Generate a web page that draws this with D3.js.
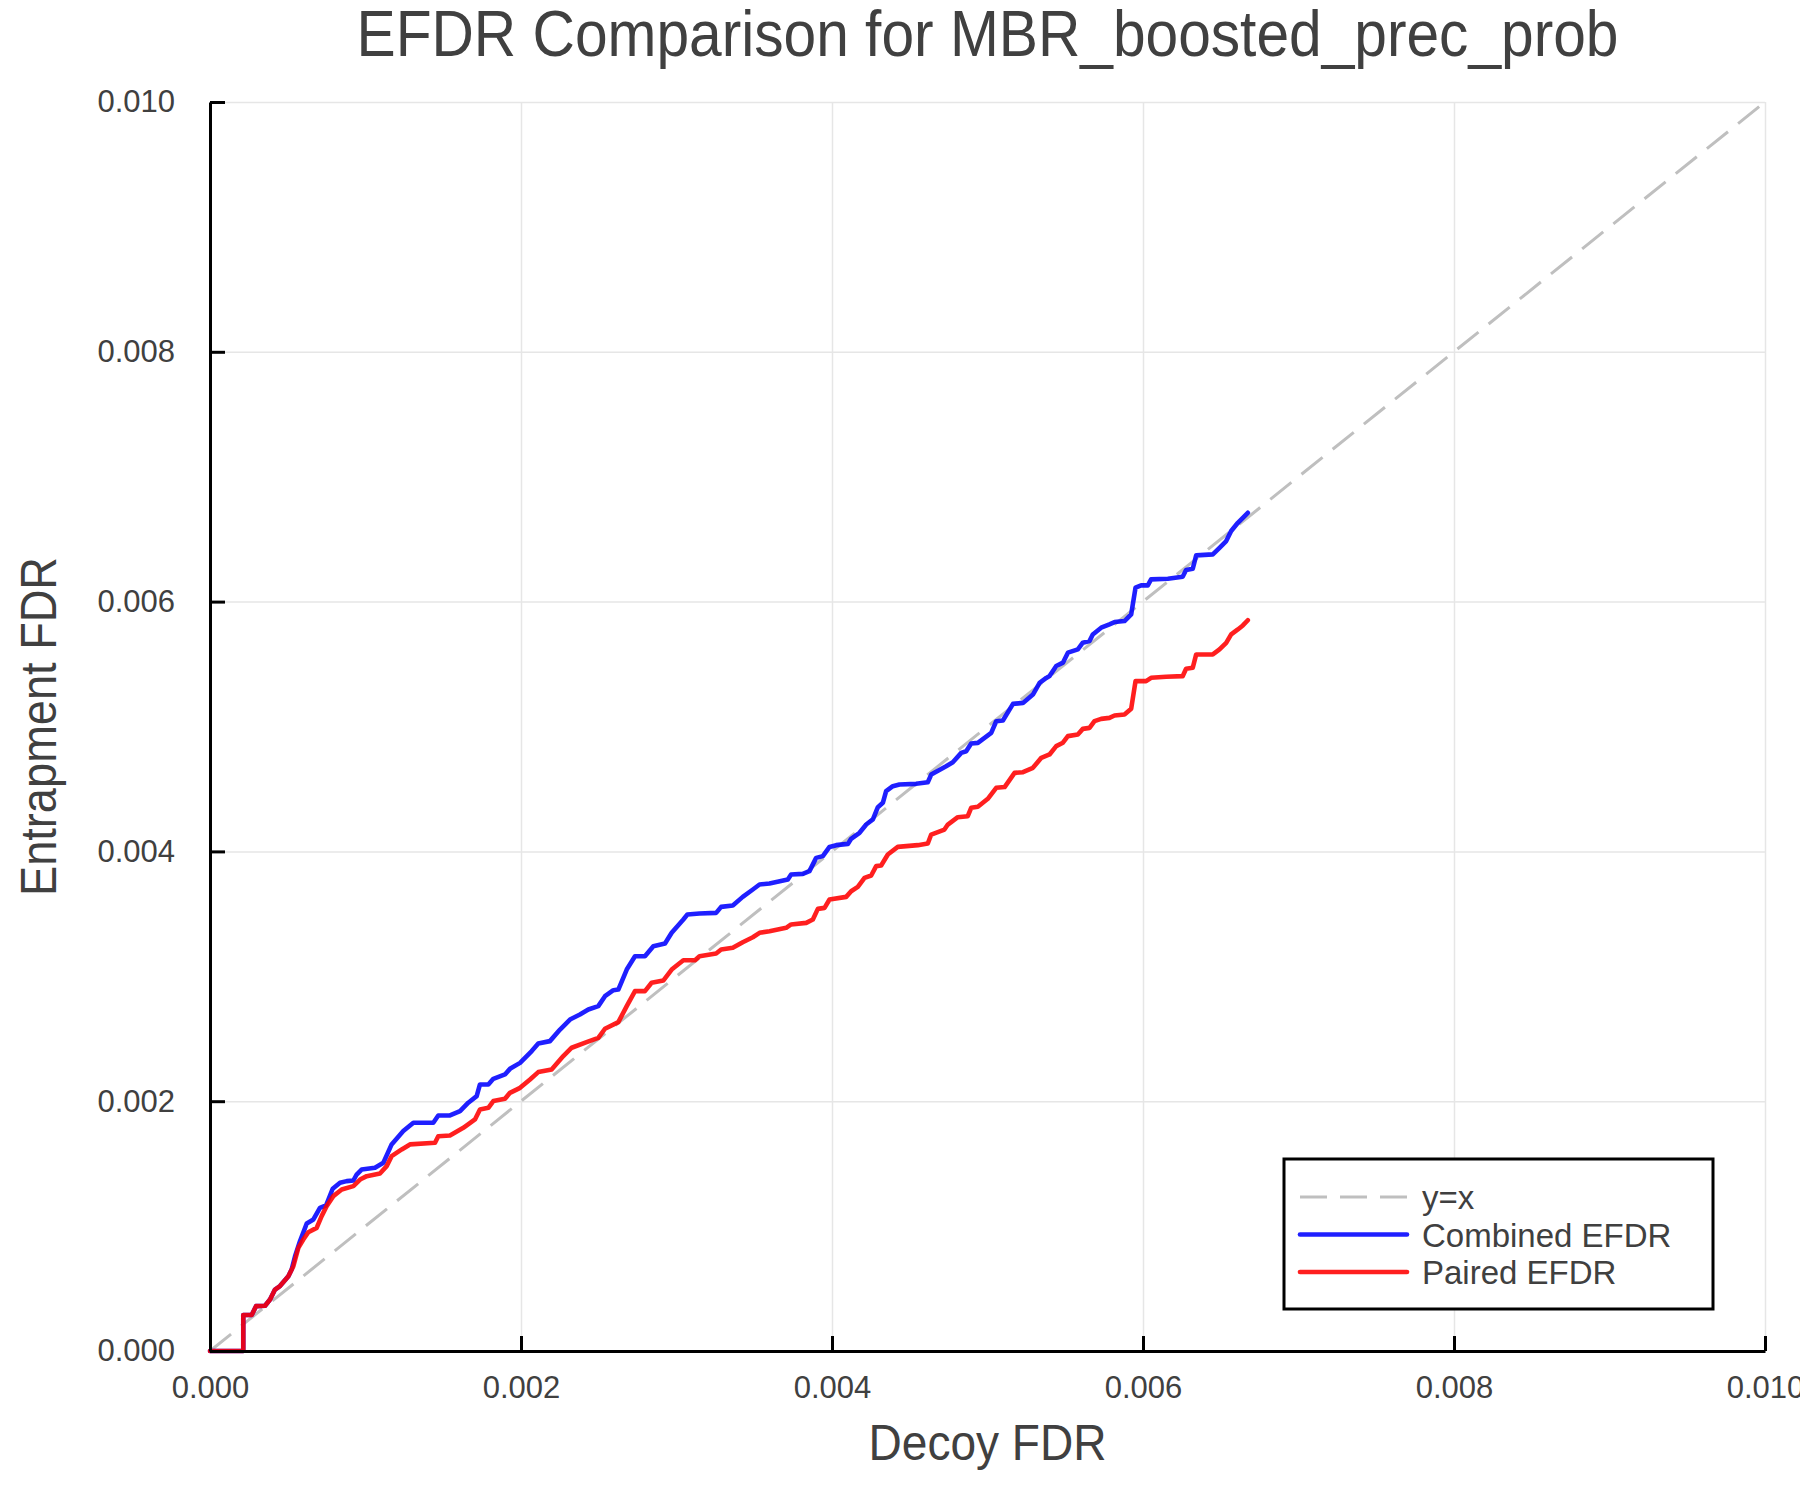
<!DOCTYPE html>
<html>
<head>
<meta charset="utf-8">
<script src="https://cdn.jsdelivr.net/npm/d3@7"></script>
<style>
  body { margin: 0; background: #fff; }
  text { font-family: "Liberation Sans", Helvetica, Arial, sans-serif; fill: #404040; }
</style>
</head>
<body>
<div id="chart"></div>
<script>
// Datos (FDR de señuelo vs FDR de trampa)
const combinedX = [0, 0.000214, 0.000214, 0.000268, 0.000296, 0.000354, 0.000386, 0.000418, 0.000450, 0.000504, 0.000525,
  0.000547, 0.000579, 0.000622, 0.000665, 0.000707, 0.000746, 0.000789, 0.000836, 0.000879, 0.000922, 0.000943, 0.000975,
  0.001061, 0.001115, 0.001168, 0.001243, 0.001308, 0.001436, 0.001468, 0.001543, 0.001608, 0.001661, 0.001715, 0.001736,
  0.001790, 0.001822, 0.001897, 0.001929, 0.001994, 0.002069, 0.002111, 0.002186, 0.002251, 0.002315, 0.002379, 0.002433,
  0.002497, 0.002540, 0.002594, 0.002626, 0.002680, 0.002733, 0.002797, 0.002851, 0.002926, 0.002969, 0.003044, 0.003070,
  0.003148, 0.003255, 0.003287, 0.003362, 0.003426, 0.003491, 0.003534, 0.003598, 0.003716, 0.003737, 0.003812, 0.003855,
  0.003898, 0.003941, 0.003984, 0.004027, 0.004102, 0.004123, 0.004177, 0.004220, 0.004263, 0.004295, 0.004327, 0.004348,
  0.004391, 0.004434, 0.004541, 0.004616, 0.004638, 0.004734, 0.004777, 0.004831, 0.004863, 0.004895, 0.004938, 0.005024,
  0.005056, 0.005099, 0.005164, 0.005228, 0.005292, 0.005335, 0.005378, 0.005399, 0.005442, 0.005485, 0.005517, 0.005581,
  0.005613, 0.005656, 0.005677, 0.005731, 0.005784, 0.005817, 0.005881, 0.005924, 0.005952, 0.005988, 0.006031, 0.006052,
  0.006160, 0.006255, 0.006277, 0.006320, 0.006342, 0.006449, 0.006492, 0.006535, 0.006567, 0.006610, 0.006642, 0.006674];
const combinedY = [0, 0, 0.000288, 0.000288, 0.000359, 0.000362, 0.000412, 0.000492, 0.000520, 0.000599, 0.000652,
  0.000759, 0.000880, 0.001021, 0.001053, 0.001146, 0.001165, 0.001299, 0.001347, 0.001360, 0.001365, 0.001413, 0.001453,
  0.001467, 0.001507, 0.001654, 0.001761, 0.001828, 0.001828, 0.001886, 0.001886, 0.001921, 0.001988, 0.002041, 0.002134,
  0.002134, 0.002179, 0.002214, 0.002259, 0.002307, 0.002401, 0.002462, 0.002481, 0.002574, 0.002654, 0.002694, 0.002734,
  0.002761, 0.002841, 0.002889, 0.002894, 0.003054, 0.003161, 0.003161, 0.003241, 0.003262, 0.003348, 0.003455, 0.003495,
  0.003503, 0.003508, 0.003556, 0.003567, 0.003636, 0.003695, 0.003735, 0.003743, 0.003775, 0.003815, 0.003820, 0.003842,
  0.003948, 0.003962, 0.004036, 0.004050, 0.004060, 0.004101, 0.004149, 0.004215, 0.004256, 0.004354, 0.004389, 0.004482,
  0.004522, 0.004536, 0.004541, 0.004554, 0.004615, 0.004682, 0.004714, 0.004789, 0.004802, 0.004864, 0.004869, 0.004949,
  0.005042, 0.005048, 0.005181, 0.005189, 0.005256, 0.005349, 0.005389, 0.005404, 0.005484, 0.005511, 0.005591, 0.005618,
  0.005671, 0.005684, 0.005737, 0.005791, 0.005818, 0.005836, 0.005844, 0.005898, 0.006111, 0.006130, 0.006130, 0.006178,
  0.006183, 0.006199, 0.006253, 0.006263, 0.006370, 0.006378, 0.006431, 0.006485, 0.006565, 0.006631, 0.006671, 0.006711];

const pairedX = [0, 0.000214, 0.000214, 0.000268, 0.000296, 0.000354, 0.000386, 0.000418, 0.000450, 0.000504,
  0.000536, 0.000568, 0.000600, 0.000632, 0.000686, 0.000718, 0.000750, 0.000793, 0.000847, 0.000922, 0.000965, 0.001008,
  0.001093, 0.001136, 0.001168, 0.001233, 0.001286, 0.001447, 0.001468, 0.001543, 0.001629, 0.001704, 0.001736, 0.001790,
  0.001822, 0.001897, 0.001929, 0.001994, 0.002058, 0.002111, 0.002197, 0.002272, 0.002326, 0.002422, 0.002497, 0.002540,
  0.002626, 0.002680, 0.002733, 0.002797, 0.002840, 0.002915, 0.002969, 0.003044, 0.003119, 0.003148, 0.003255, 0.003287,
  0.003362, 0.003426, 0.003491, 0.003534, 0.003598, 0.003705, 0.003737, 0.003834, 0.003877, 0.003909, 0.003952, 0.003984,
  0.004091, 0.004123, 0.004166, 0.004209, 0.004252, 0.004284, 0.004316, 0.004359, 0.004423, 0.004552, 0.004616, 0.004638,
  0.004723, 0.004745, 0.004809, 0.004873, 0.004895, 0.004938, 0.005002, 0.005056, 0.005110, 0.005174, 0.005228, 0.005292,
  0.005346, 0.005399, 0.005442, 0.005485, 0.005517, 0.005581, 0.005613, 0.005656, 0.005688, 0.005731, 0.005784, 0.005817,
  0.005881, 0.005924, 0.005952, 0.006020, 0.006052, 0.006149, 0.006255, 0.006277, 0.006320, 0.006342, 0.006449, 0.006492,
  0.006535, 0.006567, 0.006610, 0.006642, 0.006674];
const pairedY = [0, 0, 0.000288, 0.000288, 0.000359, 0.000362, 0.000412, 0.000492, 0.000520, 0.000599,
  0.000679, 0.000826, 0.000893, 0.000951, 0.000986, 0.001080, 0.001160, 0.001240, 0.001293, 0.001320, 0.001373, 0.001400,
  0.001421, 0.001480, 0.001560, 0.001614, 0.001654, 0.001667, 0.001720, 0.001725, 0.001787, 0.001854, 0.001934, 0.001947,
  0.002001, 0.002019, 0.002067, 0.002107, 0.002174, 0.002233, 0.002254, 0.002361, 0.002428, 0.002473, 0.002507, 0.002580,
  0.002633, 0.002761, 0.002881, 0.002881, 0.002948, 0.002966, 0.003054, 0.003129, 0.003129, 0.003161, 0.003182, 0.003214,
  0.003228, 0.003273, 0.003313, 0.003348, 0.003361, 0.003388, 0.003415, 0.003428, 0.003455, 0.003540, 0.003548, 0.003615,
  0.003636, 0.003681, 0.003716, 0.003788, 0.003807, 0.003882, 0.003887, 0.003975, 0.004036, 0.004050, 0.004063, 0.004135,
  0.004175, 0.004215, 0.004274, 0.004282, 0.004349, 0.004357, 0.004421, 0.004509, 0.004515, 0.004629, 0.004634, 0.004669,
  0.004749, 0.004776, 0.004843, 0.004870, 0.004923, 0.004936, 0.004981, 0.004989, 0.005043, 0.005061, 0.005069, 0.005088,
  0.005096, 0.005142, 0.005363, 0.005363, 0.005390, 0.005398, 0.005403, 0.005462, 0.005470, 0.005577, 0.005577, 0.005617,
  0.005670, 0.005737, 0.005777, 0.005809, 0.005851];

const diagonal = [0, 0.010];
const tickValues = [0, 0.002, 0.004, 0.006, 0.008, 0.010];
const legendLabels = ['y=x', 'Combined EFDR', 'Paired EFDR'];

document.addEventListener('DOMContentLoaded', () => {
  const W = 1800, H = 1500;
  const margin = {top: 102, right: 35, bottom: 149, left: 210};
  const width = W - margin.left - margin.right;
  const height = H - margin.top - margin.bottom;

  const svg = d3.select('#chart')
    .append('svg')
      .attr('width', W)
      .attr('height', H);

  svg.append('rect').attr('width', W).attr('height', H).attr('fill', '#fff');

  const g = svg.append('g')
    .attr('transform', `translate(${margin.left},${margin.top})`);

  // Escalas
  const x = d3.scaleLinear().domain([0, 0.010]).range([0, width]);
  const y = d3.scaleLinear().domain([0, 0.010]).range([height, 0]);

  // Cuadrícula
  g.append('g')
    .attr('class', 'grid')
    .attr('transform', `translate(0,${height})`)
    .call(d3.axisBottom(x).tickValues(tickValues).tickSize(-height).tickFormat(''));
  g.append('g')
    .attr('class', 'grid')
    .call(d3.axisLeft(y).tickValues(tickValues).tickSize(-width).tickFormat(''));
  g.selectAll('.grid .domain').remove();
  g.selectAll('.grid line')
    .attr('stroke', '#e6e6e6')
    .attr('stroke-width', 1.5);

  // Línea y = x
  const line = d3.line()
    .x(d => x(d[0]))
    .y(d => y(d[1]));

  g.append('path')
    .datum(diagonal.map(v => [v, v]))
    .attr('d', line)
    .attr('fill', 'none')
    .attr('stroke', '#bfbfbf')
    .attr('stroke-width', 3)
    .attr('stroke-dasharray', '27,13');

  const series = [
    {xs: combinedX, ys: combinedY, color: '#0000ff'},
    {xs: pairedX, ys: pairedY, color: '#ff0000'}
  ];

  series.forEach(s => {
    g.append('path')
      .datum(s.xs.map((v, i) => [v, s.ys[i]]))
      .attr('d', line)
      .attr('fill', 'none')
      .attr('stroke', s.color)
      .attr('stroke-opacity', 0.88)
      .attr('stroke-width', 4.6)
      .attr('stroke-linejoin', 'round')
      .attr('stroke-linecap', 'round');
  });

  // Ejes (marcas hacia dentro)
  const fmt = d3.format('.3f');
  const xAxis = g.append('g')
    .attr('transform', `translate(0,${height})`)
    .call(d3.axisBottom(x).tickValues(tickValues).tickFormat(fmt)
      .tickSizeInner(-15).tickSizeOuter(0).tickPadding(25));
  const yAxis = g.append('g')
    .call(d3.axisLeft(y).tickValues(tickValues).tickFormat(fmt)
      .tickSizeInner(-15).tickSizeOuter(0).tickPadding(35));

  [xAxis, yAxis].forEach(ax => {
    ax.select('.domain').attr('stroke', '#000').attr('stroke-width', 3);
    ax.selectAll('.tick line').attr('stroke', '#000').attr('stroke-width', 3);
    ax.selectAll('.tick text')
      .attr('fill', '#404040')
      .style('font-size', '31px')
      .style('font-family', '"Liberation Sans", Helvetica, Arial, sans-serif');
  });

  // Título y etiquetas
  svg.append('text')
    .attr('x', margin.left + width / 2)
    .attr('y', 56)
    .attr('text-anchor', 'middle')
    .attr('textLength', 1262)
    .attr('lengthAdjust', 'spacingAndGlyphs')
    .style('font-size', '64px')
    .text('EFDR Comparison for MBR_boosted_prec_prob');

  svg.append('text')
    .attr('x', margin.left + width / 2)
    .attr('y', 1460)
    .attr('text-anchor', 'middle')
    .attr('textLength', 238)
    .attr('lengthAdjust', 'spacingAndGlyphs')
    .style('font-size', '50px')
    .text('Decoy FDR');

  svg.append('text')
    .attr('transform', `translate(56,${margin.top + height / 2}) rotate(-90)`)
    .attr('text-anchor', 'middle')
    .attr('textLength', 339)
    .attr('lengthAdjust', 'spacingAndGlyphs')
    .style('font-size', '50px')
    .text('Entrapment FDR');

  // Leyenda
  const legend = svg.append('g').attr('transform', 'translate(1284,1159)');
  legend.append('rect')
    .attr('width', 429)
    .attr('height', 150)
    .attr('fill', '#fff')
    .attr('stroke', '#000')
    .attr('stroke-width', 3);

  const legendStyles = [
    {color: '#bfbfbf', width: 3, dash: '27,13', opacity: 1},
    {color: '#0000ff', width: 4.6, dash: null, opacity: 0.88},
    {color: '#ff0000', width: 4.6, dash: null, opacity: 0.88}
  ];

  legendLabels.forEach((label, i) => {
    const ry = 38 + i * 37.5;
    const st = legendStyles[i];
    legend.append('line')
      .attr('x1', 16).attr('x2', 123)
      .attr('y1', ry).attr('y2', ry)
      .attr('stroke', st.color)
      .attr('stroke-opacity', st.opacity)
      .attr('stroke-width', st.width)
      .attr('stroke-linecap', st.dash ? 'butt' : 'round')
      .attr('stroke-dasharray', st.dash);
    legend.append('text')
      .attr('x', 138)
      .attr('y', ry + 12)
      .style('font-size', '33px')
      .text(label);
  });
});
</script>
</body>
</html>
